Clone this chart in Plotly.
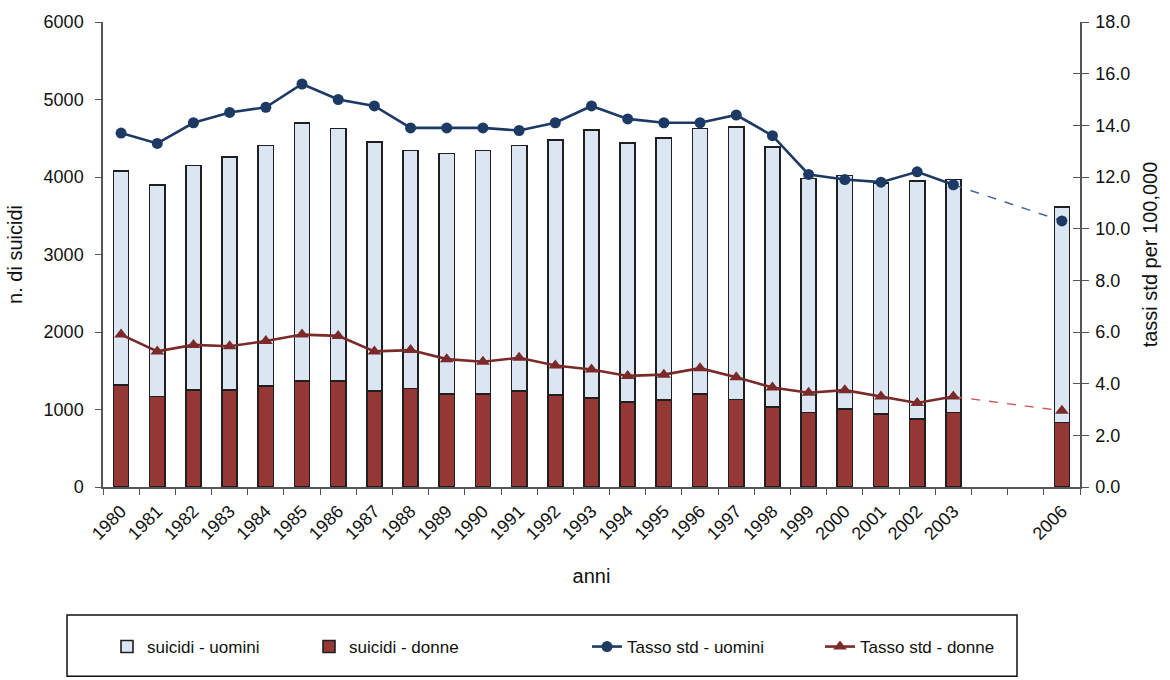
import plotly.graph_objects as go

# Years with data (2004 and 2005 are missing from the series)
years = [1980, 1981, 1982, 1983, 1984, 1985, 1986, 1987, 1988, 1989, 1990, 1991,
         1992, 1993, 1994, 1995, 1996, 1997, 1998, 1999, 2000, 2001, 2002, 2003, 2006]

# Number of suicides
suicidi_donne = [1320, 1170, 1250, 1250, 1305, 1370, 1370, 1235, 1270, 1200, 1200, 1235,
                 1185, 1150, 1100, 1120, 1200, 1130, 1030, 960, 1010, 945, 880, 960, 830]
suicidi_uomini = [2760, 2730, 2900, 3005, 3100, 3325, 3255, 3220, 3070, 3105, 3140, 3170,
                  3290, 3460, 3340, 3385, 3425, 3515, 3360, 3020, 3010, 2975, 3070, 3010, 2785]

# Standardised rates per 100,000
tasso_uomini = [13.7, 13.3, 14.1, 14.5, 14.7, 15.6, 15.0, 14.75, 13.9, 13.9, 13.9, 13.8,
                14.1, 14.75, 14.25, 14.1, 14.1, 14.4, 13.6, 12.1, 11.9, 11.8, 12.2, 11.7, 10.3]
tasso_donne = [5.9, 5.25, 5.5, 5.45, 5.65, 5.9, 5.85, 5.25, 5.3, 4.95, 4.85, 5.0,
               4.7, 4.55, 4.3, 4.35, 4.6, 4.25, 3.85, 3.65, 3.75, 3.5, 3.25, 3.5, 2.95]

tick_labels = [str(y) for y in years]

FONT = "Liberation Sans, Arial, sans-serif"
AXIS_COLOR = "#555555"
BLUE = "#1c3a64"
RED = "#7a2a28"
OUTLINE = "#1f1f1f"

fig = go.Figure()

# Stacked bars: women at the bottom, men on top
fig.add_trace(go.Bar(
    x=years, y=suicidi_donne, name="suicidi - donne", width=0.42,
    marker=dict(color="#953735", line=dict(color=OUTLINE, width=1.6)),
    legend="legend2",
))
fig.add_trace(go.Bar(
    x=years, y=suicidi_uomini, name="suicidi - uomini", width=0.42,
    marker=dict(color="#dce6f2", line=dict(color=OUTLINE, width=1.6)),
    legend="legend",
))

# Rate lines: solid through 2003, dashed bridge to 2006
fig.add_trace(go.Scatter(
    x=years[-2:], y=tasso_uomini[-2:], yaxis="y2", mode="lines",
    line=dict(color="#48689a", width=1.5, dash="dash"),
    showlegend=False, hoverinfo="skip",
))
fig.add_trace(go.Scatter(
    x=years[-2:], y=tasso_donne[-2:], yaxis="y2", mode="lines",
    line=dict(color="#cc5555", width=1.4, dash="dash"),
    showlegend=False, hoverinfo="skip",
))
fig.add_trace(go.Scatter(
    x=years[:-1], y=tasso_uomini[:-1], name="Tasso std - uomini", yaxis="y2",
    mode="lines+markers", line=dict(color=BLUE, width=2.6),
    marker=dict(symbol="circle", size=11, color=BLUE),
    legend="legend3",
))
fig.add_trace(go.Scatter(
    x=years[-1:], y=tasso_uomini[-1:], yaxis="y2", mode="markers",
    marker=dict(symbol="circle", size=11, color=BLUE),
    showlegend=False,
))
fig.add_trace(go.Scatter(
    x=years[:-1], y=tasso_donne[:-1], name="Tasso std - donne", yaxis="y2",
    mode="lines+markers", line=dict(color=RED, width=2.6),
    marker=dict(symbol="triangle-up", size=12, color=RED),
    legend="legend4",
))
fig.add_trace(go.Scatter(
    x=years[-1:], y=tasso_donne[-1:], yaxis="y2", mode="markers",
    marker=dict(symbol="triangle-up", size=12, color=RED),
    showlegend=False,
))

W, H = 1170, 680
ML, MR, MT, MB = 103, 90, 18, 193

def legend_at(px):
    return dict(
        x=px / W, xref="container", xanchor="left",
        y=1 - 647 / H, yref="container", yanchor="middle",
        orientation="h", bgcolor="rgba(0,0,0,0)", borderwidth=0,
        font=dict(family=FONT, size=17, color="#111111"),
    )

px_w = W - ML - MR
px_h = H - MT - MB

fig.update_layout(
    width=W, height=H,
    margin=dict(l=ML, r=MR, t=MT, b=MB),
    paper_bgcolor="white", plot_bgcolor="white",
    barmode="stack",
    font=dict(family=FONT, size=18, color="#111111"),
    xaxis=dict(
        range=[1979.5, 2006.5], tickmode="array", tickvals=years, ticktext=tick_labels,
        tickangle=-45, ticks="", showline=True, linecolor=AXIS_COLOR, linewidth=1.5,
        showgrid=False, zeroline=False, tickfont=dict(size=18),
        ticklabelstandoff=5,
        minor=dict(tickmode="linear", tick0=1979.5, dtick=1, ticks="outside",
                   ticklen=6, tickcolor=AXIS_COLOR, tickwidth=1.2),
        title=dict(text="anni", font=dict(size=20), standoff=26),
    ),
    yaxis=dict(
        range=[0, 6000], dtick=1000, ticks="outside", ticklen=6, tickcolor=AXIS_COLOR,
        showline=True, linecolor=AXIS_COLOR, linewidth=1.5, showgrid=False, zeroline=False,
        ticklabelstandoff=8,
        title=dict(text="n. di suicidi", font=dict(size=20), standoff=16),
    ),
    yaxis2=dict(
        range=[0, 18], dtick=2, tickformat=".1f", overlaying="y", side="right",
        ticks="outside", ticklen=7, tickcolor=AXIS_COLOR,
        showline=True, linecolor=AXIS_COLOR, linewidth=1.5, showgrid=False, zeroline=False,
        ticklabelstandoff=3,
        title=dict(text="tassi std per 100,000", font=dict(size=20), standoff=14),
    ),
    yaxis3=dict(
        range=[0, 18], dtick=2, overlaying="y", side="right", anchor="x",
        ticks="inside", ticklen=7, tickcolor=AXIS_COLOR, showticklabels=False,
        showline=False, showgrid=False, zeroline=False,
    ),
    legend=legend_at(107),
    legend2=legend_at(309),
    legend3=legend_at(587),
    legend4=legend_at(820),
    shapes=[dict(
        type="rect", xref="paper", yref="paper",
        x0=(67 - ML) / px_w, x1=(1017 - ML) / px_w,
        y0=(H - MB - 678) / px_h, y1=(H - MB - 616) / px_h,
        line=dict(color="#111111", width=1.5), fillcolor="rgba(0,0,0,0)",
    )],
)

# Invisible trace so the crossing tick axis is drawn
fig.add_trace(go.Scatter(x=[years[0]], y=[0], yaxis="y3", mode="markers",
                         marker=dict(opacity=0), showlegend=False, hoverinfo="skip"))

fig.write_html("out.html")
